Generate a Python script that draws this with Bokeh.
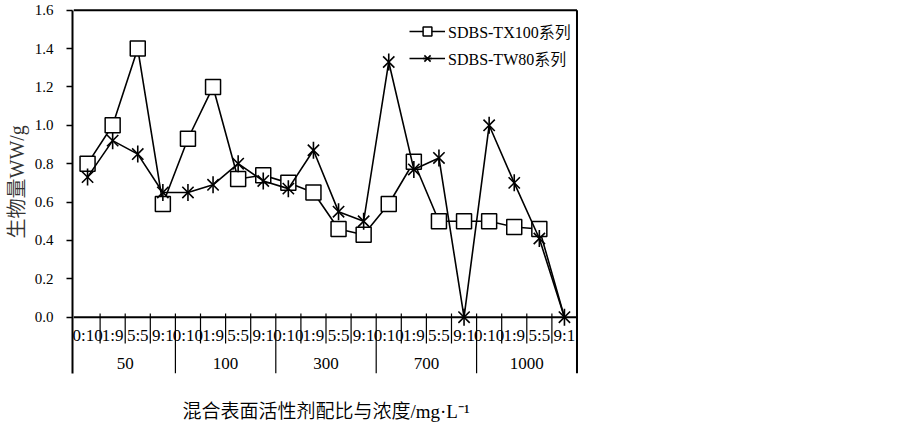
import math
from bokeh.plotting import figure
from bokeh.models import (FactorRange, Range1d, ColumnDataSource, FixedTicker,
                          PrintfTickFormatter, Legend, LegendItem, LinearAxis, Title)
from bokeh.core.properties import value
from bokeh.embed import file_html
from bokeh.resources import INLINE

# ---------------- data ----------------
concentrations = ["50", "100", "300", "700", "1000"]
ratios = ["0:10", "1:9", "5:5", "9:1"]
tx100 = [0.80, 1.00, 1.40, 0.59, 0.93, 1.20, 0.72, 0.74, 0.70, 0.65,
         0.46, 0.43, 0.59, 0.81, 0.50, 0.50, 0.50, 0.47, 0.46, 0.00]
tw80 = [0.73, 0.92, 0.85, 0.65, 0.65, 0.69, 0.80, 0.71, 0.67, 0.87,
        0.55, 0.50, 1.33, 0.77, 0.83, 0.00, 1.00, 0.70, 0.41, 0.00]
tx100_marked = 19          # the last TX100 point has no marker in the source
y_ticks = [0.0, 0.2, 0.4, 0.6, 0.8, 1.0, 1.2, 1.4, 1.6]
series_names = ["SDBS-TX100系列", "SDBS-TW80系列"]
y_title = "生物量WW/g"
x_title = "混合表面活性剂配比与浓度/mg·L⁻¹"

factors = [(c, r) for c in concentrations for r in ratios]
n = len(factors)

# ---------------- layout constants ----------------
SERIF = "'Liberation Serif', 'Noto Sans CJK SC DemiLight', 'Noto Sans CJK SC'"
W, H = 900, 427
FRAME_LEFT, FRAME_W = 72, 507
FRAME_TOP, FRAME_H = 0, 373
PAD = 0.05
UNIT = FRAME_W / (n + 2 * PAD)
Y0 = 316.7          # canvas y of value 0
PPU = 191.9         # pixels per unit value
y_end = (Y0 - FRAME_TOP) / PPU
y_start = (Y0 - (FRAME_TOP + FRAME_H)) / PPU
y_max = y_ticks[-1]

def ydat(py):
    return (Y0 - py) / PPU

x_range = FactorRange(*factors, factor_padding=0, group_padding=0,
                      subgroup_padding=0, range_padding=2 * PAD,
                      range_padding_units="absolute")

p = figure(frame_width=FRAME_W, frame_height=FRAME_H,
           x_range=x_range, y_range=Range1d(y_start, y_end),
           min_border_left=FRAME_LEFT, min_border_right=W - FRAME_LEFT - FRAME_W,
           min_border_top=FRAME_TOP, min_border_bottom=H - FRAME_TOP - FRAME_H,
           output_backend="svg", toolbar_location=None, title=None,
           outline_line_color=None, background_fill_color="white")
p.grid.visible = False
p.xaxis.visible = False

ax = p.yaxis[0]
ax.ticker = FixedTicker(ticks=y_ticks)
ax.formatter = PrintfTickFormatter(format="%.1f")
ax.bounds = (y_start, y_max)
ax.axis_line_width = 2
ax.axis_line_color = "black"
ax.major_tick_out = 6
ax.major_tick_in = 0
ax.major_tick_line_width = 1.5
ax.major_tick_line_color = "black"
ax.minor_tick_line_color = None
ax.major_label_standoff = 13
ax.major_label_text_font = SERIF
ax.major_label_text_font_size = "15px"
ax.major_label_text_color = "black"

# y title: left-side title, starting where the source starts it
p.add_layout(Title(text=y_title, align="left", offset=FRAME_TOP + FRAME_H - 238,
                   vertical_align="middle", standoff=6,
                   text_font=SERIF, text_font_size="20px",
                   text_font_style="normal", text_color="#333333"), "left")

# x title: a bare axis below the frame
xtitle_axis = LinearAxis(ticker=FixedTicker(ticks=[]),
                         axis_line_color=None, major_tick_line_color=None,
                         minor_tick_line_color=None, major_label_standoff=0,
                         axis_label=x_title, axis_label_standoff=27,
                         axis_label_text_font=SERIF, axis_label_text_font_size="19px",
                         axis_label_text_font_style="normal",
                         axis_label_text_color="black")
p.add_layout(xtitle_axis, "below")

# ---------------- frame lines / category axis ----------------
p.segment(x0=[-PAD, n, -PAD], y0=[y_max, y_start, 0],
          x1=[n, n, n], y1=[y_max, y_max, 0],
          line_color="black", line_width=2)

bounds_small = [i for i in range(1, n) if i % len(ratios) != 0]
bounds_group = [i for i in range(1, n) if i % len(ratios) == 0]
tick_top = ydat(313)
tick_bot = ydat(343)
p.segment(x0=bounds_small, y0=[tick_top] * len(bounds_small),
          x1=bounds_small, y1=[tick_bot] * len(bounds_small),
          line_color="black", line_width=1.2)
p.segment(x0=bounds_group, y0=[tick_top] * len(bounds_group),
          x1=bounds_group, y1=[y_start] * len(bounds_group),
          line_color="black", line_width=1.2)

lab_src = ColumnDataSource(dict(x=factors, y=[ydat(335)] * n,
                                t=[f[1] for f in factors]))
p.text(x="x", y="y", text="t", source=lab_src, text_align="center",
       text_baseline="middle", text_font=value("Liberation Serif"),
       text_font_size="17px", text_color="black")
grp_src = ColumnDataSource(dict(x=concentrations, y=[ydat(363)] * len(concentrations),
                                t=concentrations))
p.text(x="x", y="y", text="t", source=grp_src, text_align="center",
       text_baseline="middle", text_font=value("Liberation Serif"),
       text_font_size="17px", text_color="black")

# ---------------- series ----------------
l1 = p.line(x=factors, y=tx100, line_color="black", line_width=1.6)
s1 = p.scatter(x=factors[:tx100_marked], y=tx100[:tx100_marked], marker="square",
               size=15, fill_color="white", line_color="black", line_width=1.5)
l2 = p.line(x=factors, y=tw80, line_color="black", line_width=1.6)
m2 = p.scatter(x=factors, y=tw80, marker="x", size=16,
               line_color="black", line_width=1.6)
d2 = p.scatter(x=factors, y=tw80, marker="dash", size=17, angle=math.pi / 2,
               line_color="black", line_width=1.6)

legend = Legend(items=[LegendItem(label=series_names[0], renderers=[l1, s1]),
                       LegendItem(label=series_names[1], renderers=[l2, m2, d2])],
                location=(337, 303), border_line_color=None,
                background_fill_alpha=0, padding=0, margin=0, spacing=3,
                label_height=22, glyph_height=22, glyph_width=36,
                label_standoff=3, label_text_font=SERIF,
                label_text_font_size="16px", label_text_color="black")
p.add_layout(legend)

open("out.html", "w").write(file_html(p, INLINE))
